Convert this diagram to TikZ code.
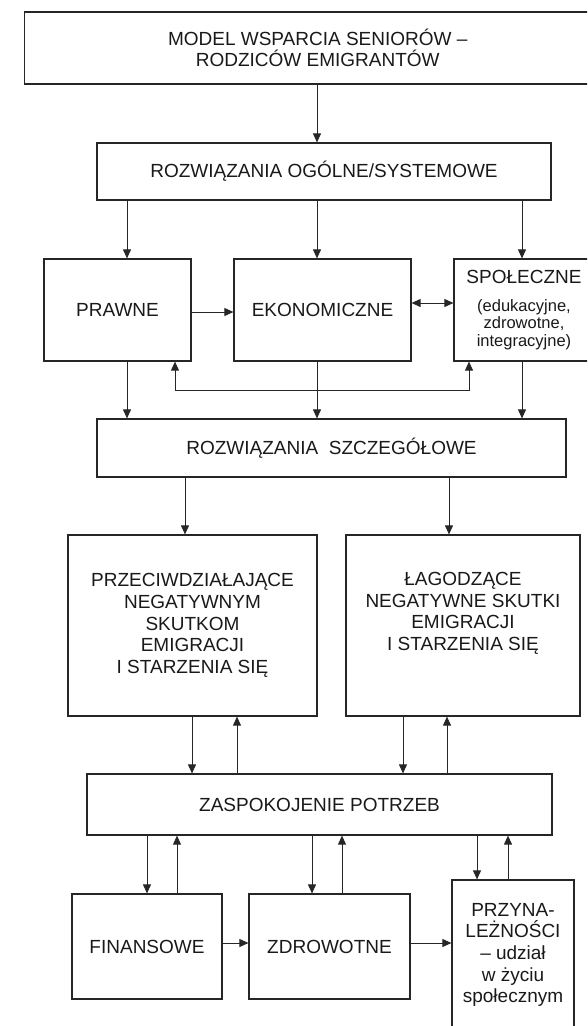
\documentclass[tikz,border=0pt]{standalone}
\usepackage{fontspec}
\setmainfont{Liberation Sans}
\usetikzlibrary{arrows.meta}

\newcommand{\smalltxt}{\fontsize{16.5}{21.7}\selectfont}

\begin{document}
\begin{tikzpicture}[x=1pt, y=-1pt,
    box/.style={draw=black!85, line width=1.2pt, inner sep=0pt, align=center, font=\fontsize{19}{21.7}\selectfont, text=black!90},
    arr/.style={draw=black!85, line width=0.9pt, -{Triangle[length=9pt, width=8pt]}},
    twoarr/.style={draw=black!85, line width=0.9pt, {Triangle[length=9pt, width=8pt]}-{Triangle[length=9pt, width=8pt]}}]
      \clip (0,0) rectangle (587,1026);

      % Nodes
      \node[box, minimum width=586.5pt, minimum height=72pt] (model) at (317.75, 48) {MODEL WSPARCIA SENIORÓW --\\RODZICÓW EMIGRANTÓW};
      \node[box, minimum width=454pt, minimum height=57pt] (ogolne) at (324, 171.5) {ROZWIĄZANIA OGÓLNE/SYSTEMOWE};
      \node[box, minimum width=147pt, minimum height=102pt] (prawne) at (117.5, 310) {PRAWNE};
      \node[box, minimum width=177pt, minimum height=102pt] (ekonom) at (322.5, 310) {EKONOMICZNE};
      \node[box, minimum width=140pt, minimum height=102pt] (spolecz) at (524, 310) {SPOŁECZNE\\[6pt]\smalltxt(edukacyjne,\\[-4pt]\smalltxt zdrowotne,\\[-4pt]\smalltxt integracyjne)};
      \node[box, minimum width=469pt, minimum height=58pt] (szczeg) at (331.5, 448) {ROZWIĄZANIA\ \ SZCZEGÓŁOWE};
      \node[box, minimum width=249pt, minimum height=181pt] (przeciw) at (192.5, 625.5) {PRZECIWDZIAŁAJĄCE\\NEGATYWNYM\\SKUTKOM\\EMIGRACJI\\I STARZENIA SIĘ};
      \node[box, minimum width=234pt, minimum height=181pt] (lagodz) at (463, 625.5) {ŁAGODZĄCE\\NEGATYWNE SKUTKI\\EMIGRACJI\\I STARZENIA SIĘ\\\strut};
      \node[box, minimum width=465pt, minimum height=61pt] (potrzeby) at (319.5, 804.5) {ZASPOKOJENIE POTRZEB};
      \node[box, minimum width=150pt, minimum height=105pt] (finans) at (147, 946.5) {FINANSOWE};
      \node[box, minimum width=161pt, minimum height=105pt] (zdrow) at (329.5, 946.5) {ZDROWOTNE};
      \node[box, minimum width=122pt, minimum height=150pt] (przynal) at (513, 955) {PRZYNA-\\LEŻNOŚCI\\-- udział\\w życiu\\społecznym};

      % Edges
      \draw[arr] (model.south -| 317,0) -- (ogolne.north -| 317,0);
      \draw[arr] (ogolne.south -| 127,0) -- (prawne.north -| 127,0);
      \draw[arr] (ogolne.south -| 317,0) -- (ekonom.north -| 317,0);
      \draw[arr] (ogolne.south -| 522,0) -- (spolecz.north -| 522,0);
      \draw[arr] (prawne.east |- 0,312) -- (ekonom.west |- 0,312);
      \draw[twoarr] (ekonom.east |- 0,303) -- (spolecz.west |- 0,303);
      \draw[twoarr] (prawne.south -| 175,0) -- ++(0,29) -| (spolecz.south -| 469,0);
      \draw[arr] (prawne.south -| 127,0) -- (szczeg.north -| 127,0);
      \draw[arr] (ekonom.south -| 317,0) -- (szczeg.north -| 317,0);
      \draw[arr] (spolecz.south -| 522,0) -- (szczeg.north -| 522,0);
      \draw[arr] (szczeg.south -| 185,0) -- (przeciw.north -| 185,0);
      \draw[arr] (szczeg.south -| 449,0) -- (lagodz.north -| 449,0);
      \draw[arr] (przeciw.south -| 192,0) -- (potrzeby.north -| 192,0);
      \draw[arr] (potrzeby.north -| 237,0) -- (przeciw.south -| 237,0);
      \draw[arr] (lagodz.south -| 403,0) -- (potrzeby.north -| 403,0);
      \draw[arr] (potrzeby.north -| 447,0) -- (lagodz.south -| 447,0);
      \draw[arr] (potrzeby.south -| 147,0) -- (finans.north -| 147,0);
      \draw[arr] (finans.north -| 177,0) -- (potrzeby.south -| 177,0);
      \draw[arr] (potrzeby.south -| 312,0) -- (zdrow.north -| 312,0);
      \draw[arr] (zdrow.north -| 342,0) -- (potrzeby.south -| 342,0);
      \draw[arr] (potrzeby.south -| 477,0) -- (przynal.north -| 477,0);
      \draw[arr] (przynal.north -| 508,0) -- (potrzeby.south -| 508,0);
      \draw[arr] (finans.east |- 0,943) -- (zdrow.west |- 0,943);
      \draw[arr] (zdrow.east |- 0,943) -- (przynal.west |- 0,943);
    \end{tikzpicture}
\end{document}
